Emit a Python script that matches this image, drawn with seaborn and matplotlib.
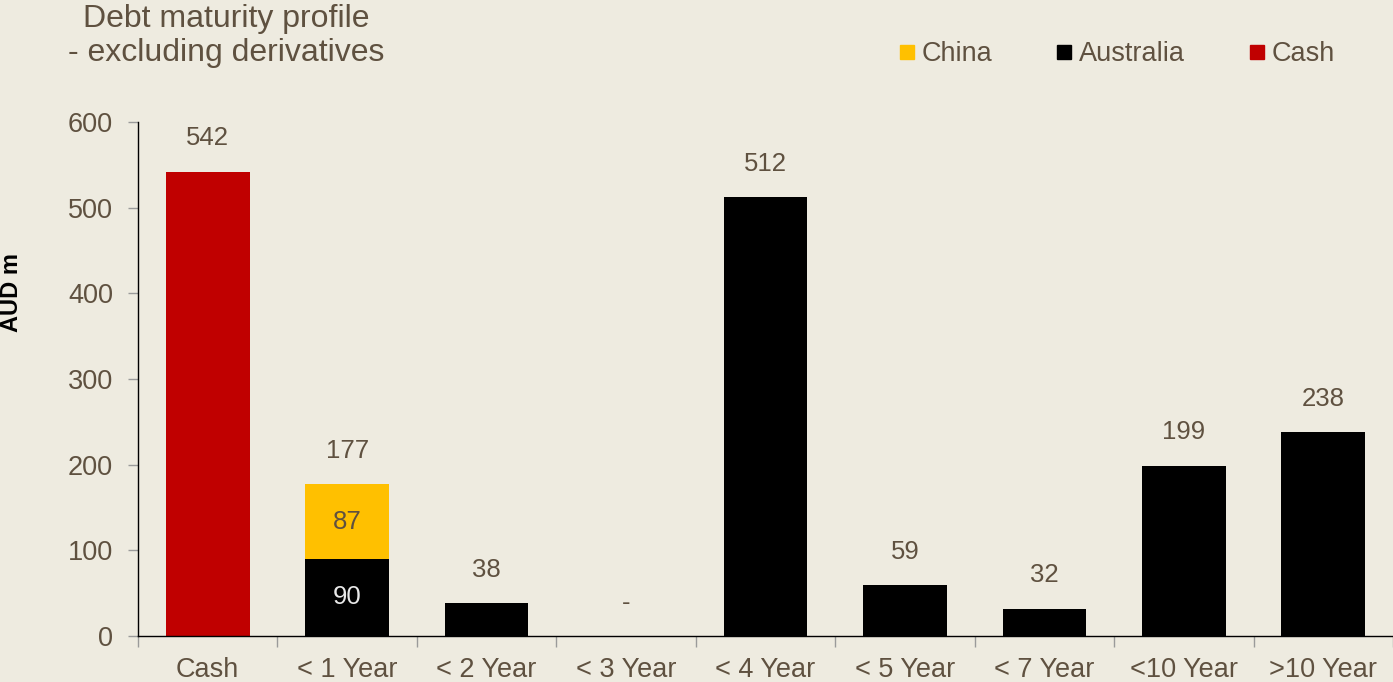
import matplotlib
matplotlib.use("Agg")
import matplotlib.pyplot as plt
from matplotlib.lines import Line2D
from matplotlib.ticker import FixedLocator
import seaborn as sns
import pandas as pd

categories = ["Cash", "< 1 Year", "< 2 Year", "< 3 Year", "< 4 Year",
              "< 5 Year", "< 7 Year", "<10 Year", ">10 Year"]
australia = [0, 90, 38, 0, 512, 59, 32, 199, 238]
china = [0, 87, 0, 0, 0, 0, 0, 0, 0]
cash = [542, 0, 0, 0, 0, 0, 0, 0, 0]
total_labels = ["542", "177", "38", "-", "512", "59", "32", "199", "238"]
yticks = [0, 100, 200, 300, 400, 500, 600]

BG = "#EEEBE0"
TXT = "#5F5140"
YELLOW = "#FFC000"
BLACK = "#000000"
RED = "#C00000"

sns.set_theme(style="white")
plt.rcParams["font.family"] = ["Liberation Sans", "DejaVu Sans"]

df = pd.DataFrame({"cat": categories, "aus": australia, "china": china, "cash": cash})
df["aus_china"] = df["aus"] + df["china"]
df["total"] = df["aus_china"] + df["cash"]

fig = plt.figure(figsize=(13.93, 6.82), dpi=100, facecolor=BG)
ax = fig.add_axes([138 / 1393, 1 - 636 / 682, 1 - 138 / 1393, (636 - 122) / 682])
ax.set_facecolor(BG)

for col, c in (("aus_china", YELLOW), ("aus", BLACK), ("cash", RED)):
    sns.barplot(data=df, x="cat", y=col, color=c, width=0.6, ax=ax,
                saturation=1, order=categories, linewidth=0, edgecolor=c)

ax.set_xlim(-0.5, len(categories) - 0.5)
ax.set_ylim(0, 600)
ax.set_yticks(yticks)
ax.set_xlabel("")
ax.set_ylabel("")

for s in ["top", "right"]:
    ax.spines[s].set_visible(False)
for s in ["left", "bottom"]:
    ax.spines[s].set_color("#000000")
    ax.spines[s].set_linewidth(1.0)

FS = 19.5
ax.tick_params(axis="y", direction="out", length=7, width=1, color="#9A9A9A",
               labelsize=FS, labelcolor=TXT, pad=11, left=True)
ax.tick_params(axis="x", which="major", length=0, labelsize=FS,
               labelcolor=TXT, pad=15)
ax.xaxis.set_minor_locator(FixedLocator([i - 0.5 for i in range(len(categories) + 1)]))
ax.tick_params(axis="x", which="minor", direction="out", length=8, width=1,
               color="#9A9A9A", bottom=True)

# labels
for i, row in df.iterrows():
    ax.annotate(total_labels[i], (i, row["total"]), xytext=(0, 24),
                textcoords="offset points", ha="center", va="center",
                fontsize=18.5, color=TXT)
    if row["china"] > 0:
        ax.text(i, row["aus"] + row["china"] / 2, f"{row['china']:g}", ha="center",
                va="center", fontsize=18.5, color=TXT)
        ax.text(i, row["aus"] / 2, f"{row['aus']:g}", ha="center", va="center",
                fontsize=18.5, color="#E8E8E8")

fig.text(226 / 1393, 1 - 36 / 682, "Debt maturity profile\n- excluding derivatives",
         ha="center", va="center", fontsize=23, color=TXT, linespacing=1.2)
fig.text(12 / 1393, 1 - 292 / 682, "AUD m", rotation=90, ha="center", va="center",
         fontsize=17, fontweight="bold", color="#000000")

handles = [Line2D([], [], marker="s", linestyle="none", markersize=10,
                  markerfacecolor=c, markeredgecolor=c) for c in (YELLOW, BLACK, RED)]
leg = fig.legend(handles, ["China", "Australia", "Cash"], loc="center right",
                 bbox_to_anchor=(1335 / 1393, 1 - 54 / 682), ncol=3, frameon=False,
                 fontsize=FS, handlelength=0.6, handletextpad=0.25,
                 columnspacing=2.35, borderpad=0, borderaxespad=0)
for t in leg.get_texts():
    t.set_color(TXT)

fig.savefig("out.png", dpi=100, facecolor=BG)
